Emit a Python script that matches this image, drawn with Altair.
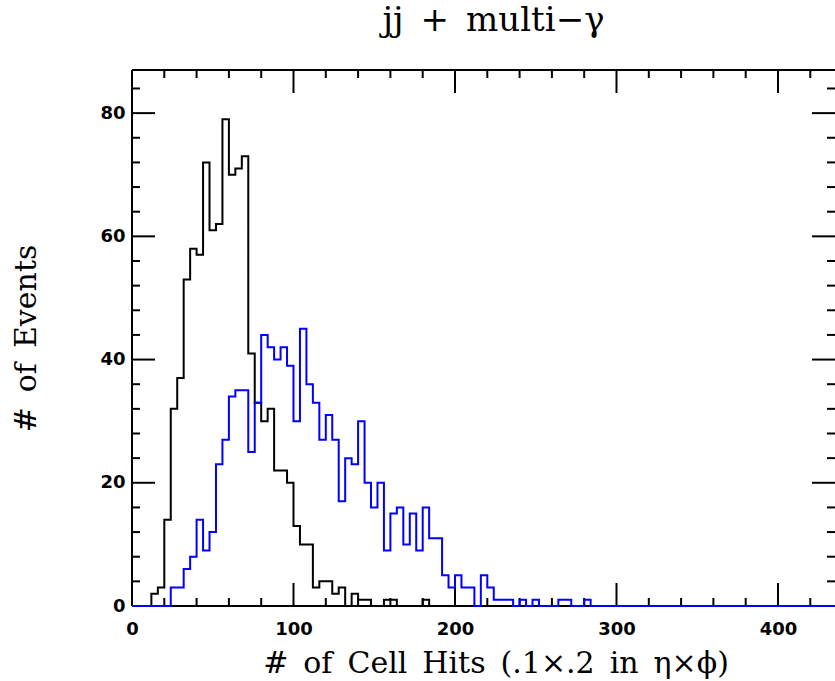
import altair as alt
import pandas as pd

# ---------------- data ----------------
BIN_WIDTH = 4
X_MAX = 435.3
Y_MAX = 87

# counts per 4-unit bin, starting at 0
black_counts = [0, 0, 0, 2, 3, 14, 32, 37, 53, 58, 57, 72, 61, 62, 79, 70, 71, 73,
                41, 33, 30, 32, 22, 22, 20, 13, 10, 10, 3, 4, 4, 2, 3, 0, 2, 1,
                1, 0, 0, 1, 1, 0, 0, 0, 0, 1, 0]
blue_counts = [0, 0, 0, 0, 0, 0, 3, 3, 6, 8, 14, 9, 12, 23, 27, 34, 35, 35,
               25, 33, 44, 42, 40, 42, 39, 30, 45, 36, 33, 27, 31, 27, 17, 24, 23, 30,
               20, 16, 20, 9, 15, 16, 10, 15, 9, 16, 11, 11, 5, 3, 5, 3, 3, 0,
               5, 3, 1, 1, 1, 0, 1, 0, 1, 0, 0, 0, 1, 1, 0, 0, 1, 0]

x_major = [0, 100, 200, 300, 400]
x_minor = [v for v in range(20, 436, 20) if v % 100 != 0]
y_major = [0, 20, 40, 60, 80]
y_minor = [v for v in range(4, 87, 4) if v % 20 != 0]

TITLE = "jj\u2002+\u2002multi\u2212\u03b3"
X_TITLE = "#\u2002of\u2002Cell\u2002Hits\u2002(.1\u00d7.2\u2002in\u2002\u03b7\u00d7\u03d5)"
Y_TITLE = "#\u2002of\u2002Events"

# ---------------- layout ----------------
W, H = 703, 536
MAJ, MIN = 23, 8
SW = 2


def steps(counts):
    n_bins = int(X_MAX // BIN_WIDTH) + 1
    c = list(counts) + [0] * (n_bins - len(counts))
    xs = [i * BIN_WIDTH for i in range(n_bins)] + [X_MAX]
    ys = c + [c[-1]]
    xs = [min(x, X_MAX) for x in xs]
    return pd.DataFrame({"x": xs, "y": ys})


xscale = alt.Scale(domain=[0, X_MAX], nice=False, zero=False)
yscale = alt.Scale(domain=[0, Y_MAX], nice=False, zero=False)

x_axis = alt.Axis(values=x_major, ticks=False, domain=False, grid=False,
                  labelFont="DejaVu Sans", labelFontWeight="bold", labelFontSize=18,
                  labelColor="black", labelPadding=14, labelFlush=False,
                  labelOverlap=False, title=X_TITLE, titleFont="DejaVu Serif",
                  titleFontSize=30, titleFontWeight="normal", titleColor="black",
                  titlePadding=10, titleX=W / 2 + 12, titleAnchor="middle")
y_axis = alt.Axis(values=y_major, ticks=False, domain=False, grid=False,
                  labelFont="DejaVu Sans", labelFontWeight="bold", labelFontSize=18,
                  labelColor="black", labelPadding=7, labelFlush=False,
                  labelOverlap=False, title=Y_TITLE, titleFont="DejaVu Serif",
                  titleFontSize=30, titleFontWeight="normal", titleColor="black",
                  titlePadding=58)

X = lambda f: alt.X(f, scale=xscale, axis=x_axis)
Y = lambda f: alt.Y(f, scale=yscale, axis=y_axis)

black_line = alt.Chart(steps(black_counts)).mark_line(
    interpolate="step-after", color="#000000", strokeWidth=SW
).encode(x=X("x:Q"), y=Y("y:Q"))
blue_line = alt.Chart(steps(blue_counts)).mark_line(
    interpolate="step-after", color="#0000ff", strokeWidth=SW
).encode(x=X("x:Q"), y=Y("y:Q"))


def xticks(vals, length):
    df = pd.DataFrame({"x": vals})
    base = alt.Chart(df).mark_rule(color="black", strokeWidth=SW)
    bottom = base.encode(x=X("x:Q"), y=alt.value(H), y2=alt.value(H - length))
    top = base.encode(x=X("x:Q"), y=alt.value(0), y2=alt.value(length))
    return [bottom, top]


def yticks(vals, length):
    df = pd.DataFrame({"y": vals})
    base = alt.Chart(df).mark_rule(color="black", strokeWidth=SW)
    left = base.encode(y=Y("y:Q"), x=alt.value(0), x2=alt.value(length))
    right = base.encode(y=Y("y:Q"), x=alt.value(W), x2=alt.value(W - length))
    return [left, right]


frame_df = pd.DataFrame({"a": [0]})
frame = [
    alt.Chart(frame_df).mark_rule(color="black", strokeWidth=SW).encode(
        x=alt.value(0), y=alt.value(0), y2=alt.value(H)),
    alt.Chart(frame_df).mark_rule(color="black", strokeWidth=SW).encode(
        x=alt.value(0), x2=alt.value(W), y=alt.value(0)),
    alt.Chart(frame_df).mark_rule(color="black", strokeWidth=SW).encode(
        x=alt.value(0), x2=alt.value(W), y=alt.value(H)),
]

layers = (frame + xticks(x_major, MAJ) + xticks(x_minor, MIN)
          + yticks(y_major, MAJ) + yticks(y_minor, MIN) + [black_line, blue_line])

chart = alt.layer(*layers).properties(
    width=W, height=H,
    title=alt.TitleParams(TITLE, font="DejaVu Serif", fontSize=34,
                          fontWeight="normal", color="black", anchor="middle",
                          offset=31, dx=10),
    padding={"left": 132, "top": 70, "right": 0, "bottom": 75},
    autosize=alt.AutoSizeParams(type="none"),
).configure_view(stroke=None).configure(background="white")

chart.save("out.html", embed_options={"renderer": "svg", "actions": False})
